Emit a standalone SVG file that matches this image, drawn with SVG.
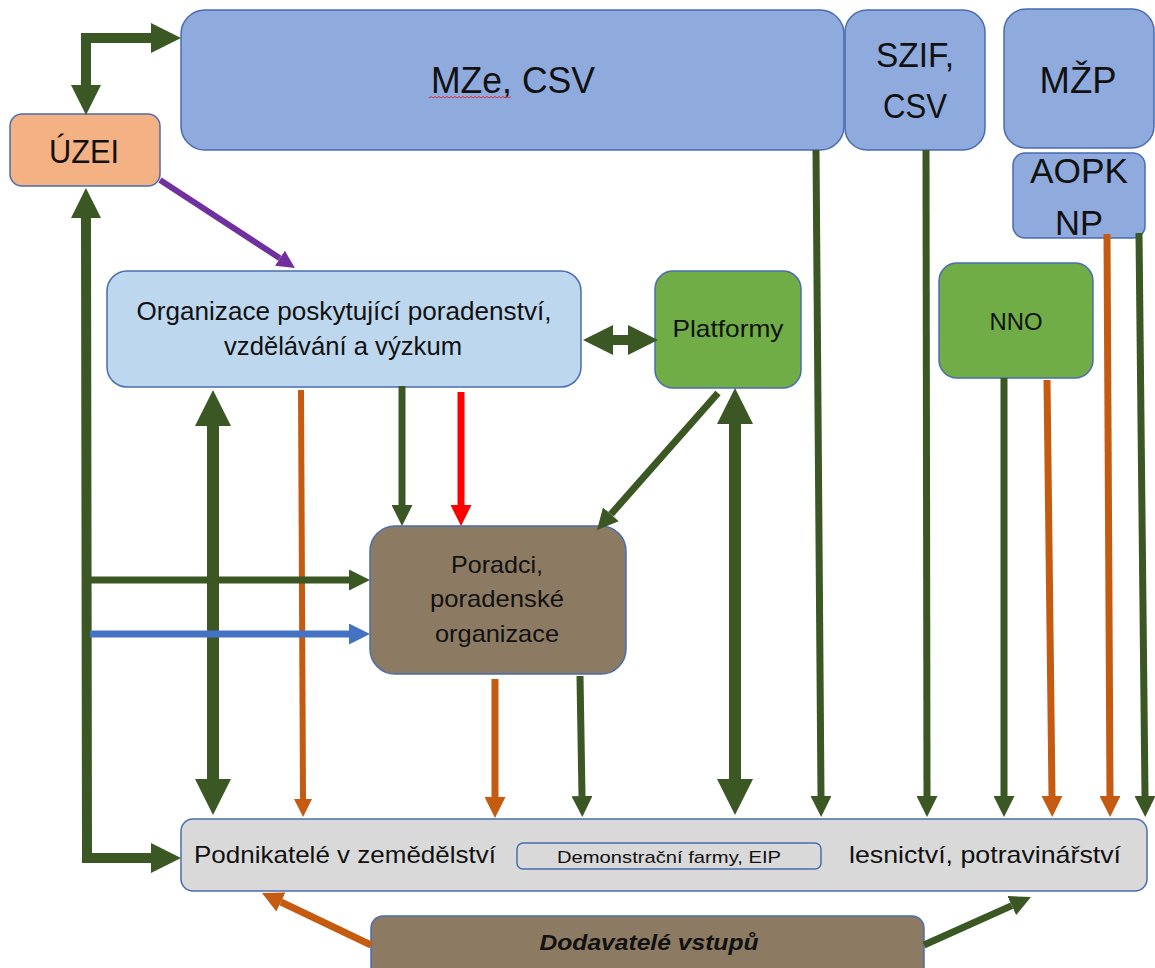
<svg xmlns="http://www.w3.org/2000/svg" width="1155" height="968" viewBox="0 0 1155 968">
<style>
  .box { stroke: #4A6CB0; stroke-width: 1.5; }
  .blue { fill: #8FAADC; }
  .lblue { fill: #BDD7EE; }
  .green { fill: #70AD47; }
  .brown { fill: #8D7A62; }
  .grey { fill: #D9D9D9; }
  .orangebox { fill: #F4B183; }
  text { font-family: "Liberation Sans", Arial, sans-serif; fill: #111; }
  .c { text-anchor: middle; }
  .ln { fill: none; stroke-linecap: butt; stroke-linejoin: miter; }
  .g { stroke: #3A5724; marker-end: url(#mG); }
  .o { stroke: #C55A11; marker-end: url(#mO); }
  .r { stroke: #FF0000; marker-end: url(#mR); }
  .p { stroke: #7030A0; marker-end: url(#mP); }
  .b { stroke: #4472C4; marker-end: url(#mB); }
  .both { marker-start: url(#mG); }
</style>
<defs>
  <marker id="mG" viewBox="0 0 3 3" refX="0" refY="1.5" markerWidth="3" markerHeight="3" markerUnits="strokeWidth" orient="auto-start-reverse"><path d="M0,0 L3,1.5 L0,3 Z" fill="#3A5724"/></marker>
  <marker id="mO" viewBox="0 0 3 3" refX="0" refY="1.5" markerWidth="3" markerHeight="3" markerUnits="strokeWidth" orient="auto-start-reverse"><path d="M0,0 L3,1.5 L0,3 Z" fill="#C55A11"/></marker>
  <marker id="mR" viewBox="0 0 3 3" refX="0" refY="1.5" markerWidth="3" markerHeight="3" markerUnits="strokeWidth" orient="auto-start-reverse"><path d="M0,0 L3,1.5 L0,3 Z" fill="#FF0000"/></marker>
  <marker id="mP" viewBox="0 0 3 3" refX="0" refY="1.5" markerWidth="3" markerHeight="3" markerUnits="strokeWidth" orient="auto-start-reverse"><path d="M0,0 L3,1.5 L0,3 Z" fill="#7030A0"/></marker>
  <marker id="mB" viewBox="0 0 3 3" refX="0" refY="1.5" markerWidth="3" markerHeight="3" markerUnits="strokeWidth" orient="auto-start-reverse"><path d="M0,0 L3,1.5 L0,3 Z" fill="#4472C4"/></marker>
</defs>
<rect width="1155" height="968" fill="#FFFFFF"/>

<g id="node-mze">
  <rect class="box blue" x="181" y="10" width="663" height="140" rx="24"/>
  <text class="c" x="513" y="93" font-size="37" textLength="164" lengthAdjust="spacingAndGlyphs">MZe, CSV</text>
  <path d="M429,98 l2,-1.5 l2,1.5 l2,-1.5 l2,1.5 l2,-1.5 l2,1.5 l2,-1.5 l2,1.5 l2,-1.5 l2,1.5 l2,-1.5 l2,1.5 l2,-1.5 l2,1.5 l2,-1.5 l2,1.5 l2,-1.5 l2,1.5 l2,-1.5 l2,1.5 l2,-1.5 l2,1.5 l2,-1.5 l2,1.5 l2,-1.5 l2,1.5 l2,-1.5 l2,1.5 l2,-1.5 l2,1.5 l2,-1.5 l2,1.5 l2,-1.5 l2,1.5 l2,-1.5 l2,1.5 l2,-1.5 l2,1.5 l2,-1.5 l2,1.5 l2,-1.5" fill="none" stroke="#E03030" stroke-width="1"/>
</g>
<g id="node-szif">
  <rect class="box blue" x="845" y="10" width="140" height="140" rx="22"/>
  <text class="c" x="915" y="67" font-size="35" textLength="78" lengthAdjust="spacingAndGlyphs">SZIF,</text>
  <text class="c" x="915" y="118" font-size="35" textLength="64" lengthAdjust="spacingAndGlyphs">CSV</text>
</g>
<g id="node-mzp">
  <rect class="box blue" x="1004" y="9" width="150" height="139" rx="22"/>
  <text class="c" x="1078" y="93" font-size="36" textLength="77" lengthAdjust="spacingAndGlyphs">MŽP</text>
</g>
<g id="node-aopk">
  <rect class="box blue" x="1013" y="153" width="132" height="85" rx="12"/>
  <text class="c" x="1079" y="183" font-size="35" textLength="98" lengthAdjust="spacingAndGlyphs">AOPK</text>
  <text class="c" x="1079" y="235" font-size="35" textLength="48" lengthAdjust="spacingAndGlyphs">NP</text>
</g>
<g id="node-uzei">
  <rect class="box orangebox" x="10" y="114" width="150" height="72" rx="12"/>
  <text class="c" x="84" y="163" font-size="33" textLength="70" lengthAdjust="spacingAndGlyphs">ÚZEI</text>
</g>
<g id="node-org">
  <rect class="box lblue" x="107" y="271" width="474" height="116" rx="20"/>
  <text class="c" x="344" y="320" font-size="25" textLength="415" lengthAdjust="spacingAndGlyphs">Organizace poskytující poradenství,</text>
  <text class="c" x="343" y="355" font-size="25" textLength="238" lengthAdjust="spacingAndGlyphs">vzdělávání a výzkum</text>
</g>
<g id="node-platformy">
  <rect class="box green" x="655" y="271" width="146" height="117" rx="18"/>
  <text class="c" x="728" y="337" font-size="24" textLength="111" lengthAdjust="spacingAndGlyphs">Platformy</text>
</g>
<g id="node-nno">
  <rect class="box green" x="939" y="263" width="154" height="115" rx="18"/>
  <text class="c" x="1016" y="330" font-size="23" textLength="53" lengthAdjust="spacingAndGlyphs">NNO</text>
</g>
<g id="node-poradci">
  <rect class="box brown" x="370" y="526" width="256" height="148" rx="25"/>
  <text class="c" x="497" y="573" font-size="24" textLength="92" lengthAdjust="spacingAndGlyphs">Poradci,</text>
  <text class="c" x="497" y="607" font-size="24" textLength="134" lengthAdjust="spacingAndGlyphs">poradenské</text>
  <text class="c" x="497" y="642" font-size="24" textLength="124" lengthAdjust="spacingAndGlyphs">organizace</text>
</g>
<g id="node-podnikatele">
  <rect class="box grey" x="181" y="819" width="966" height="72" rx="12"/>
  <text x="194" y="863" font-size="24" textLength="302" lengthAdjust="spacingAndGlyphs">Podnikatelé v zemědělství</text>
  <text x="849" y="863" font-size="24" textLength="272" lengthAdjust="spacingAndGlyphs">lesnictví, potravinářství</text>
</g>
<g id="node-demo">
  <rect class="box grey" x="517" y="843" width="304" height="26" rx="6"/>
  <text class="c" x="669" y="863" font-size="17" textLength="224" lengthAdjust="spacingAndGlyphs">Demonstrační farmy, EIP</text>
</g>
<g id="node-dodavatele">
  <rect class="box brown" x="371" y="916" width="553" height="70" rx="12"/>
  <text class="c" x="649" y="950" font-size="22" font-weight="bold" font-style="italic" textLength="219" lengthAdjust="spacingAndGlyphs">Dodavatelé vstupů</text>
</g>

<g id="connectors">
  <path class="ln g both" stroke-width="10" d="M86,85 L86,38 L151,38"/>
  <path class="ln g both" stroke-width="10" d="M86,218 L87,858 L151,858"/>
  <path class="ln p" stroke-width="6" d="M160,180 L279.9,258.2"/>
  <path class="ln g both" stroke-width="10" d="M613,340 L628,340"/>
  <path class="ln g" stroke-width="7" d="M718,393 L610.9,514.3"/>
  <path class="ln g both" stroke-width="12" d="M735,424 L735,779"/>
  <path class="ln g both" stroke-width="12" d="M213,426 L213,779"/>
  <path class="ln o" stroke-width="6" d="M301,390 L303,799"/>
  <path class="ln g" stroke-width="7" d="M402,386 L402,505"/>
  <path class="ln r" stroke-width="7" d="M461,392 L461,505"/>
  <path class="ln g" stroke-width="7" d="M87,580 L349,580"/>
  <path class="ln b" stroke-width="7" d="M90,634 L349,634"/>
  <path class="ln o" stroke-width="7" d="M495,679 L495,797"/>
  <path class="ln g" stroke-width="7" d="M580,676 L582,796"/>
  <path class="ln g" stroke-width="7" d="M816,150 L821,796"/>
  <path class="ln g" stroke-width="7" d="M926,150 L927,796"/>
  <path class="ln g" stroke-width="7" d="M1004,378 L1004,796"/>
  <path class="ln o" stroke-width="7" d="M1047,380 L1052,796"/>
  <path class="ln o" stroke-width="7" d="M1107,234 L1110,796"/>
  <path class="ln g" stroke-width="7" d="M1139,233 L1145,796"/>
  <path class="ln o" stroke-width="7" d="M371,945 L280.9,902"/>
  <path class="ln g" stroke-width="7" d="M924,945 L1011.8,905.6"/>
</g>
</svg>
